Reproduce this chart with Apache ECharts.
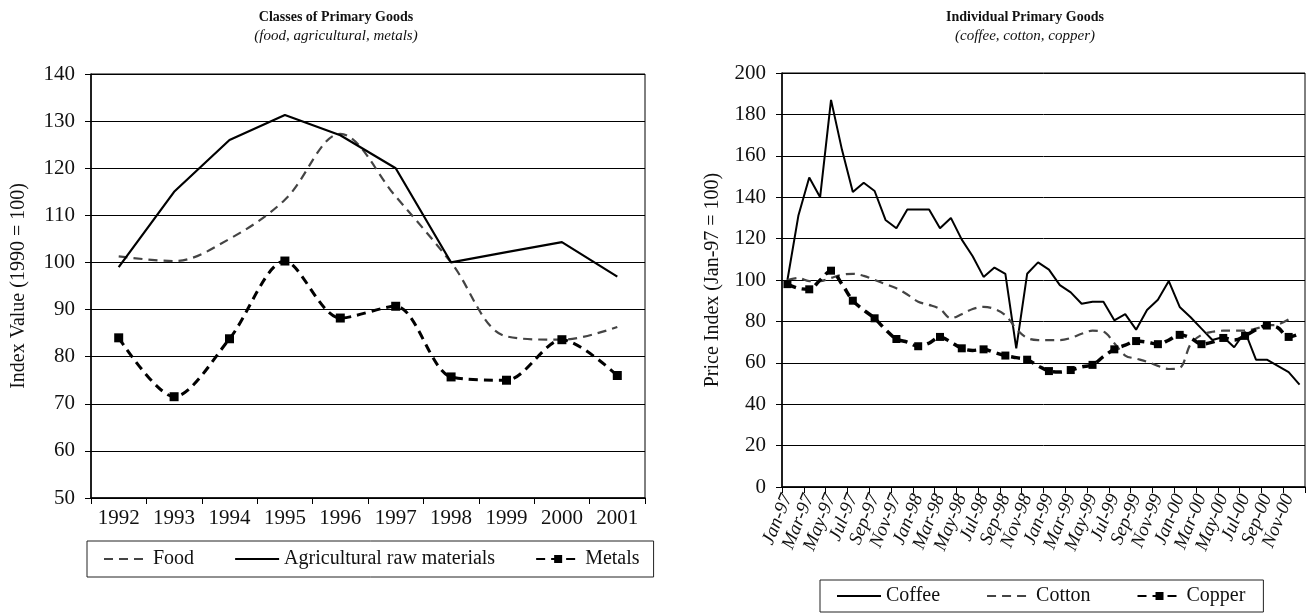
<!DOCTYPE html>
<html>
<head>
<meta charset="utf-8">
<script src="https://cdn.jsdelivr.net/npm/echarts@6/dist/echarts.min.js"></script>
<style>
  html, body { margin: 0; padding: 0; background: #fff; }
  #main { width: 1307px; height: 615px; }
</style>
</head>
<body>
<div id="main"></div>
<script>
// left chart: classes of primary goods (1990 = 100)
var years = ['1992', '1993', '1994', '1995', '1996', '1997', '1998', '1999', '2000', '2001'];
var food = [101.3, 100.3, 105, 113.3, 127.3, 114, 100, 84.3, 83.6, 86.3];
var agri = [99, 115, 126, 131.3, 127, 120, 100, 102.2, 104.3, 97];
var metals = [84, 71.5, 83.8, 100.3, 88.2, 90.7, 75.7, 75, 83.6, 76];

// right chart: individual primary goods (Jan-97 = 100)
var months = [
  'Jan-97', 'Feb-97', 'Mar-97', 'Apr-97', 'May-97', 'Jun-97', 'Jul-97', 'Aug-97', 'Sep-97', 'Oct-97', 'Nov-97', 'Dec-97',
  'Jan-98', 'Feb-98', 'Mar-98', 'Apr-98', 'May-98', 'Jun-98', 'Jul-98', 'Aug-98', 'Sep-98', 'Oct-98', 'Nov-98', 'Dec-98',
  'Jan-99', 'Feb-99', 'Mar-99', 'Apr-99', 'May-99', 'Jun-99', 'Jul-99', 'Aug-99', 'Sep-99', 'Oct-99', 'Nov-99', 'Dec-99',
  'Jan-00', 'Feb-00', 'Mar-00', 'Apr-00', 'May-00', 'Jun-00', 'Jul-00', 'Aug-00', 'Sep-00', 'Oct-00', 'Nov-00', 'Dec-00'
];
var coffee = [100, 131, 149.5, 140, 187, 163, 142.5, 147, 143, 129, 125, 134,
  134, 134, 125, 130, 119.5, 111.5, 101.5, 106, 103, 67, 103, 108.5,
  105, 97.5, 94, 88.5, 89.5, 89.5, 80.5, 83.5, 76, 85.5, 90.5, 99.5,
  87, 82, 76.5, 71, 72.5, 67.5, 75, 61.5, 61.5, 58.5, 55.5, 49.5];
var cotton = [100, 101, 99.5, 99.5, 101, 102.5, 103, 102, 100, 98, 96, 93,
  89.5, 88, 86, 81.5, 83.5, 86, 87, 86, 83, 76.5, 72, 71,
  71, 71, 72, 74, 75.5, 75, 69.5, 63.5, 62, 60.5, 58.5, 57,
  57.5, 69, 73.5, 75, 75.5, 75.5, 75.5, 76.5, 78, 78.5, 81, null];
var copper = [98, 96, 95.5, 100, 104.5, 98, 90, 85.5, 81.5, 76, 71.5, 70,
  68, 69.5, 72.5, 70, 67, 66, 66.5, 65, 63.5, 62.5, 61.5, 58.5,
  56, 55.5, 56.5, 58, 59, 63, 66.5, 68.5, 70.5, 70, 69, 71,
  73.5, 72, 69, 70, 72, 71, 73, 76, 78, 77, 72.5, 74];

var serif = '"Liberation Serif", "DejaVu Serif", serif';

function yAxisCfg(idx, min, max, step, name, gap) {
  return {
    gridIndex: idx, type: 'value', min: min, max: max, interval: step,
    name: name, nameLocation: 'middle', nameGap: gap, nameRotate: 90,
    nameTextStyle: { color: '#111', fontFamily: serif, fontSize: 20 },
    axisLine: { show: true, lineStyle: { color: '#000', width: 1.5 } },
    axisTick: { show: true, length: 6, lineStyle: { color: '#000' } },
    axisLabel: { color: '#111', fontFamily: serif, fontSize: 21, margin: 16 },
    splitLine: { lineStyle: { color: '#000', width: 1 } }
  };
}

// legend entries without a marker show just the line
function plain(name) {
  return { name: name, itemStyle: { opacity: 0 } };
}

var myChart = echarts.init(document.getElementById('main'));
myChart.setOption({
  animation: false,
  title: [
    { text: 'Classes of Primary Goods', subtext: '(food, agricultural, metals)',
      left: 331, top: 5, textAlign: 'center', itemGap: 5,
      textStyle: { color: '#111', fontFamily: serif, fontSize: 14, fontWeight: 'bold' },
      subtextStyle: { color: '#111', fontFamily: serif, fontSize: 15, fontStyle: 'italic' } },
    { text: 'Individual Primary Goods', subtext: '(coffee, cotton, copper)',
      left: 1020, top: 5, textAlign: 'center', itemGap: 5,
      textStyle: { color: '#111', fontFamily: serif, fontSize: 14, fontWeight: 'bold' },
      subtextStyle: { color: '#111', fontFamily: serif, fontSize: 15, fontStyle: 'italic' } }
  ],
  grid: [
    { left: 91, top: 74, width: 554, height: 424, show: true, borderColor: '#000', borderWidth: 1 },
    { left: 782, top: 73, width: 523, height: 414, show: true, borderColor: '#000', borderWidth: 1 }
  ],
  legend: [
    { data: [plain('Food'), plain('Agricultural raw materials'), 'Metals'],
      left: 87, top: 541, padding: [8, 14, 8, 16], itemGap: 40, itemWidth: 44, itemHeight: 10,
      borderColor: '#222', borderWidth: 1,
      textStyle: { color: '#111', fontFamily: serif, fontSize: 20 } },
    { data: [plain('Coffee'), plain('Cotton'), 'Copper'],
      left: 820, top: 580, padding: [6, 18, 6, 16], itemGap: 46, itemWidth: 44, itemHeight: 10,
      borderColor: '#222', borderWidth: 1,
      textStyle: { color: '#111', fontFamily: serif, fontSize: 20 } }
  ],
  xAxis: [
    { gridIndex: 0, type: 'category', data: years, boundaryGap: true,
      axisLine: { lineStyle: { color: '#000', width: 1.5 } },
      axisTick: { show: true, length: 6, lineStyle: { color: '#000' } },
      axisLabel: { color: '#111', fontFamily: serif, fontSize: 21, margin: 10 } },
    { gridIndex: 1, type: 'category', data: months, boundaryGap: true,
      axisLine: { lineStyle: { color: '#000', width: 1.5 } },
      axisTick: { show: true, length: 6, interval: 1, lineStyle: { color: '#000' } },
      axisLabel: { color: '#111', fontFamily: serif, fontSize: 19, fontStyle: 'italic',
        interval: 1, rotate: 68, margin: 8 } }
  ],
  yAxis: [
    yAxisCfg(0, 50, 140, 10, 'Index Value (1990 = 100)', 62),
    yAxisCfg(1, 0, 200, 20, 'Price Index (Jan-97 = 100)', 59)
  ],
  series: [
    { name: 'Food', type: 'line', xAxisIndex: 0, yAxisIndex: 0, data: food,
      smooth: 0.35, showSymbol: false, symbol: 'none',
      lineStyle: { color: '#444', width: 2.2, type: [9, 6] }, itemStyle: { color: '#444' } },
    { name: 'Agricultural raw materials', type: 'line', xAxisIndex: 0, yAxisIndex: 0, data: agri,
      showSymbol: false, symbol: 'none',
      lineStyle: { color: '#000', width: 2.2 }, itemStyle: { color: '#000' } },
    { name: 'Metals', type: 'line', xAxisIndex: 0, yAxisIndex: 0, data: metals,
      smooth: 0.3, symbol: 'rect', symbolSize: 9,
      lineStyle: { color: '#000', width: 3, type: [9, 6] }, itemStyle: { color: '#000' } },
    { name: 'Coffee', type: 'line', xAxisIndex: 1, yAxisIndex: 1, data: coffee,
      showSymbol: false, symbol: 'none',
      lineStyle: { color: '#000', width: 2 }, itemStyle: { color: '#000' } },
    { name: 'Cotton', type: 'line', xAxisIndex: 1, yAxisIndex: 1, data: cotton,
      smooth: 0.35, showSymbol: false, symbol: 'none',
      lineStyle: { color: '#444', width: 2.2, type: [9, 6] }, itemStyle: { color: '#444' } },
    { name: 'Copper', type: 'line', xAxisIndex: 1, yAxisIndex: 1, data: copper,
      smooth: 0.35, symbol: 'rect',
      symbolSize: function (v, p) { return p.dataIndex % 2 ? 0 : 8; },
      lineStyle: { color: '#000', width: 3.5, type: [9, 6] }, itemStyle: { color: '#000' } }
  ]
});
</script>
</body>
</html>
